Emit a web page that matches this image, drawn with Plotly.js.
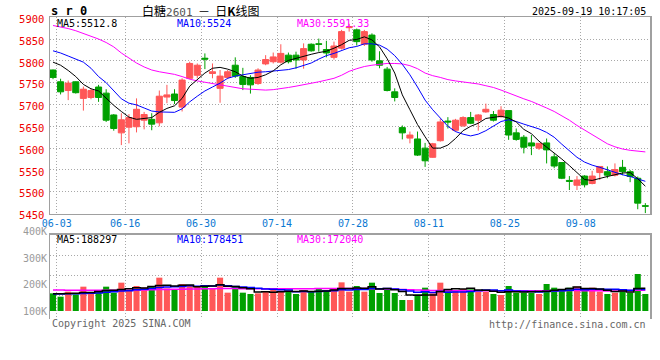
<!DOCTYPE html>
<html><head><meta charset="utf-8">
<script src="https://cdn.plot.ly/plotly-3.0.1.min.js"></script>
<style>html,body{margin:0;padding:0;background:#fff;}#chart{width:660px;height:360px;}</style>
</head><body><div id="chart"></div>
<script>
const dates = ['06-03','06-04','06-05','06-06','06-09','06-10','06-11','06-12','06-13','06-16','06-17','06-18','06-19','06-20','06-23','06-24','06-25','06-26','06-27','06-30',
'07-01','07-02','07-03','07-04','07-07','07-08','07-09','07-10','07-11','07-14','07-15','07-16','07-17','07-18','07-21','07-22','07-23','07-24','07-25','07-28','07-29','07-30','07-31',
'08-01','08-04','08-05','08-06','08-07','08-08','08-11','08-12','08-13','08-14','08-15','08-18','08-19','08-20','08-21','08-22','08-25','08-26','08-27','08-28','08-29',
'09-01','09-02','09-03','09-04','09-05','09-08','09-09','09-10','09-11','09-12','09-15','09-16','09-17','09-18','09-19'];
const open  = [5779,5752,5732,5752,5714,5716,5740,5726,5676,5635,5648,5649,5664,5666,5658,5717,5724,5694,5760,5767,5806,5771,5737,5762,5790,5764,5762,5748,5793,5798,5797,5813,5813,5802,5838,5839,5826,5808,5829,5876,5871,5838,5859,5800,5781,5729,5647,5623,5621,5600,5579,5617,5662,5641,5651,5670,5664,5683,5677,5672,5686,5635,5625,5612,5600,5612,5580,5567,5526,5515,5536,5519,5544,5546,5538,5556,5546,5531,5468];
const high  = [5780,5759,5755,5753,5741,5737,5745,5735,5678,5680,5678,5714,5683,5680,5732,5745,5735,5760,5798,5794,5817,5794,5779,5779,5808,5784,5767,5783,5813,5819,5838,5819,5821,5840,5840,5851,5846,5844,5871,5885,5874,5871,5863,5822,5786,5737,5652,5638,5638,5612,5612,5667,5671,5667,5673,5683,5678,5702,5685,5696,5687,5645,5630,5630,5611,5622,5588,5567,5536,5536,5538,5548,5558,5558,5565,5573,5550,5535,5474];
const low   = [5758,5723,5710,5725,5686,5712,5706,5660,5640,5607,5611,5636,5643,5641,5650,5703,5701,5684,5758,5760,5781,5760,5704,5758,5761,5733,5725,5745,5790,5794,5794,5794,5782,5782,5821,5821,5808,5803,5826,5867,5835,5834,5798,5783,5730,5707,5620,5611,5582,5557,5578,5615,5645,5638,5649,5655,5640,5681,5661,5670,5619,5617,5588,5584,5596,5565,5554,5529,5504,5504,5510,5517,5527,5531,5535,5538,5522,5460,5451];
const close = [5762,5729,5749,5727,5735,5732,5716,5664,5645,5665,5670,5689,5677,5655,5719,5722,5709,5756,5794,5790,5804,5775,5765,5775,5765,5746,5745,5779,5803,5809,5817,5798,5802,5828,5823,5838,5818,5834,5867,5878,5844,5867,5802,5790,5732,5716,5635,5630,5584,5571,5610,5660,5660,5664,5670,5657,5676,5689,5664,5687,5630,5620,5602,5605,5611,5596,5559,5531,5524,5527,5516,5536,5558,5538,5551,5546,5535,5474,5467];
const ma5  = [5797,5790,5778,5764,5746,5736,5731,5714,5698,5684,5671,5666,5668,5670,5682,5691,5697,5714,5742,5758,5772,5783,5785,5781,5775,5765,5760,5762,5768,5777,5791,5801,5806,5811,5815,5819,5822,5829,5837,5847,5849,5855,5848,5832,5805,5772,5722,5688,5654,5626,5600,5600,5607,5622,5640,5650,5657,5668,5671,5673,5669,5660,5643,5633,5616,5603,5590,5575,5560,5545,5528,5526,5531,5535,5539,5543,5544,5530,5512.8];
const ma10 = [5823,5818,5811,5804,5797,5783,5764,5750,5731,5713,5703,5699,5692,5685,5683,5682,5682,5690,5706,5719,5731,5740,5749,5760,5765,5768,5771,5774,5775,5777,5778,5780,5784,5789,5795,5804,5812,5817,5823,5830,5833,5839,5839,5836,5827,5812,5792,5768,5740,5710,5688,5668,5650,5638,5632,5628,5632,5640,5650,5661,5665,5661,5655,5650,5644,5636,5625,5609,5595,5579,5568,5561,5556,5550,5544,5539,5535,5530,5524];
const ma30 = [5881,5878,5874,5869,5863,5857,5850,5842,5832,5818,5806,5795,5786,5779,5775,5772,5769,5764,5758,5754,5751,5748,5745,5741,5738,5736,5735,5734,5733,5734,5736,5739,5742,5745,5749,5752,5756,5760,5767,5776,5782,5787,5790,5792,5794,5794,5793,5789,5782,5772,5766,5762,5757,5754,5752,5750,5747,5743,5739,5733,5726,5720,5713,5707,5700,5692,5684,5674,5664,5652,5641,5630,5619,5610,5603,5598,5595,5593,5591.33];
const volume = [146500,118800,160200,138200,201700,146500,160200,201700,151900,234800,168600,207200,193400,207200,276300,187800,174100,223900,215500,207200,201700,187800,276300,151900,198900,151900,141000,146500,160200,182400,168600,160200,141000,174100,165800,182400,168600,182400,237600,160200,207200,160200,234800,149200,182400,149200,91200,91200,138200,193400,146500,234800,174100,174100,182400,179600,160200,160200,141000,132600,207200,151900,151900,151900,141000,223900,193400,182400,193400,201700,165800,193400,160200,141000,151900,182400,151900,306700,141000];
const volMa5 = [143000,143000,145000,148000,153100,153100,161400,169700,172400,179000,183400,192800,191200,202200,210500,214400,207800,213900,215500,201700,204500,207200,217700,205000,203300,193400,184000,158000,159700,156400,159700,163600,162500,165300,161900,164700,166400,174700,187400,186200,191200,189500,200000,182300,186800,175200,161400,132600,130400,132600,132100,160800,177400,184600,182400,189000,174100,171300,164700,154700,160200,158600,156900,159100,160800,164100,172400,178500,186800,199000,187300,187300,182900,172400,162500,165800,157500,186800,188297];
const volMa10 = [140000,140000,142000,143000,145000,147000,150000,155000,160000,166100,168300,177100,180500,187300,194800,198900,200300,202600,208900,206100,209500,207500,215800,210300,202500,199000,195600,187900,182400,179900,176600,173800,160300,162500,159200,162200,165000,168600,176400,174100,178000,178000,187400,184900,186500,183200,175500,166300,156400,159700,153700,161100,155000,157500,157500,160600,167500,174400,174700,168600,174600,166400,164100,161900,157800,162200,165500,167700,173000,179900,175700,179900,180700,179600,180800,176600,172400,184900,178451];
const volMa30 = [174000,174000,173000,173000,172000,172000,171000,171000,171000,172000,173000,174000,175000,176000,178000,179000,180000,181000,182000,183000,184000,185000,186000,186000,186000,185000,185000,184000,184000,184000,184000,185000,185000,185000,185000,186000,186000,186000,187000,187000,186000,186000,185000,184000,183000,181000,179000,176000,174000,171000,170000,169000,168000,168000,168000,167000,167000,167000,167000,167000,167000,167000,167000,167000,167000,168000,168000,169000,169000,169000,168000,167000,167000,166000,165000,167000,169000,171000,172040];
const tickDates = ['06-03','06-16','06-30','07-14','07-28','08-11','08-25','09-08'];
const priceTicks = [5450,5500,5550,5600,5650,5700,5750,5800,5850,5900];
const volLabelVals = [100000,200000,300000,400000];
const volLabelText = ['100K','200K','300K','400K'];

const W = 660, H = 360;
const px = v => v / W, py = v => 1 - v / H;
const RED = '#ff5757', GREEN = '#00a000', GRID = '#a8a8a8', FRAME = '#a0a0a0';
const MONO = 'DejaVu Sans Mono';
const idx = dates.map((d, i) => i);
const xRange = [-0.395, 78.615];
const tickVals = tickDates.map(d => dates.indexOf(d) + 0.5);
const volK = 8289;
const volRange = [-(319 - 311) * volK, (311 - 234.7) * volK];
const volGrid = [295.5, 275.5, 255.5].map(y => (311 - y) * volK);
const volColors = idx.map(i => close[i] >= open[i] ? RED : GREEN);
const lblPx = 26.5 / 100000;
const volLabelRange = [100000 - 1 / lblPx, 400000 + 1 / lblPx];

const traces = [
  {type:'candlestick', x: idx, open, high, low, close, xaxis:'x', yaxis:'y',
   increasing:{line:{color:RED, width:1}, fillcolor:RED},
   decreasing:{line:{color:GREEN, width:1}, fillcolor:GREEN},
   whiskerwidth:0, hoverinfo:'skip', showlegend:false},
  {type:'scatter', mode:'lines', x: idx, y: ma30, line:{color:'#ff00ff', width:1}, xaxis:'x', yaxis:'y', hoverinfo:'skip'},
  {type:'scatter', mode:'lines', x: idx, y: ma10, line:{color:'#0000ff', width:1}, xaxis:'x', yaxis:'y', hoverinfo:'skip'},
  {type:'scatter', mode:'lines', x: idx, y: ma5, line:{color:'#000000', width:1}, xaxis:'x', yaxis:'y', hoverinfo:'skip'},
  {type:'bar', x: idx, y: volume, width:0.8, marker:{color: volColors, line:{width:0}}, xaxis:'x2', yaxis:'y2', hoverinfo:'skip'},
  {type:'scatter', mode:'lines', x: idx, y: volMa30, line:{color:'#ff00ff', width:1.5, shape:'hvh'}, xaxis:'x2', yaxis:'y2', hoverinfo:'skip'},
  {type:'scatter', mode:'lines', x: idx, y: volMa10, line:{color:'#0000ff', width:1.5, shape:'hvh'}, xaxis:'x2', yaxis:'y2', hoverinfo:'skip'},
  {type:'scatter', mode:'lines', x: idx, y: volMa5, line:{color:'#000000', width:1.5, shape:'hvh'}, xaxis:'x2', yaxis:'y2', hoverinfo:'skip'},
  {type:'scatter', mode:'markers', x: [], y: [], xaxis:'x3', yaxis:'y3', hoverinfo:'skip'}
];

const ann = (x, y, text, color, opts) => Object.assign({xref:'paper', yref:'paper', x: px(x), y: py(y), text,
  showarrow:false, xanchor:'left', yanchor:'middle', font:{family:MONO, size:10, color}}, opts || {});

const layout = {
  width: W, height: H, margin:{l:0, r:0, t:0, b:0},
  paper_bgcolor:'#ffffff', plot_bgcolor:'rgba(0,0,0,0)', showlegend:false,
  boxgap:0.2, boxgroupgap:0, bargap:0.2,
  xaxis:{domain:[px(50), px(650)], anchor:'y', range:xRange, rangeslider:{visible:false},
    tickvals:tickVals, ticktext:tickDates, ticks:'', showgrid:true, gridcolor:GRID, griddash:'1px,2px', gridwidth:1,
    zeroline:false, showline:true, mirror:true, linecolor:FRAME, linewidth:1.5,
    tickfont:{family:MONO, size:10, color:'#0a78d2'}, ticklabelstandoff:0},
  yaxis:{domain:[py(213.6), py(17.2)], anchor:'x', range:[5450, 5900], tickvals:priceTicks, ticks:'',
    showgrid:true, gridcolor:GRID, griddash:'1px,2px', gridwidth:1, zeroline:false,
    showline:true, mirror:true, linecolor:FRAME, linewidth:1.5,
    tickfont:{family:MONO, size:10.5, color:'#ee0000'}, ticklabelshift:2, ticklabelstandoff:2},
  xaxis2:{domain:[px(50), px(650)], anchor:'y2', matches:'x', side:'top', tickvals:tickVals, showticklabels:false, ticks:'',
    showgrid:true, gridcolor:GRID, griddash:'1px,2px', gridwidth:1, zeroline:false,
    showline:true, mirror:false, linecolor:FRAME, linewidth:1.5},
  yaxis2:{domain:[py(319), py(234.7)], anchor:'x2', range:volRange, tickvals:volGrid, showticklabels:false, ticks:'',
    showgrid:true, gridcolor:GRID, griddash:'1px,2px', gridwidth:1, zeroline:false,
    showline:true, mirror:true, linecolor:FRAME, linewidth:1.5},
  xaxis3:{domain:[px(50), px(650)], anchor:'y3', range:xRange, visible:false},
  yaxis3:{domain:[py(312), py(230.5)], anchor:'x3', range:volLabelRange, tickvals:volLabelVals, ticktext:volLabelText,
    ticks:'', showgrid:false, zeroline:false, showline:false, tickfont:{family:MONO, size:10, color:'#9a9a9a'}, ticklabelstandoff:2},
  annotations:[
    ann(49, 11, '<b>s r 0</b>', '#000000', {font:{family:MONO, size:12, color:'#000'}}),
    ann(140, 10.5, '白糖<span style="font-family:DejaVu Sans Mono;font-size:11px;color:#555555">2601</span>  －  日<b>K</b>线图', '#000000', {font:{family:'Noto Sans CJK SC', size:12, color:'#000'}}),
    ann(648, 12, '2025-09-19 10:17:05', '#000000', {xanchor:'right'}),
    ann(55, 23.5, 'MA5:5512.8', '#000000'),
    ann(175, 23.5, 'MA10:5524', '#0000ff'),
    ann(295, 23.5, 'MA30:5591.33', '#ff00ff'),
    ann(55, 239.5, 'MA5:188297', '#000000'),
    ann(175, 239.5, 'MA10:178451', '#0000ff'),
    ann(295, 239.5, 'MA30:172040', '#ff00ff'),
    ann(50, 323.5, 'Copyright 2025 SINA.COM', '#666666'),
    ann(648, 324, 'http://finance.sina.com.cn', '#666666', {xanchor:'right'})
  ]
};
Plotly.newPlot('chart', traces, layout, {staticPlot:true, displayModeBar:false});
</script></body></html>
